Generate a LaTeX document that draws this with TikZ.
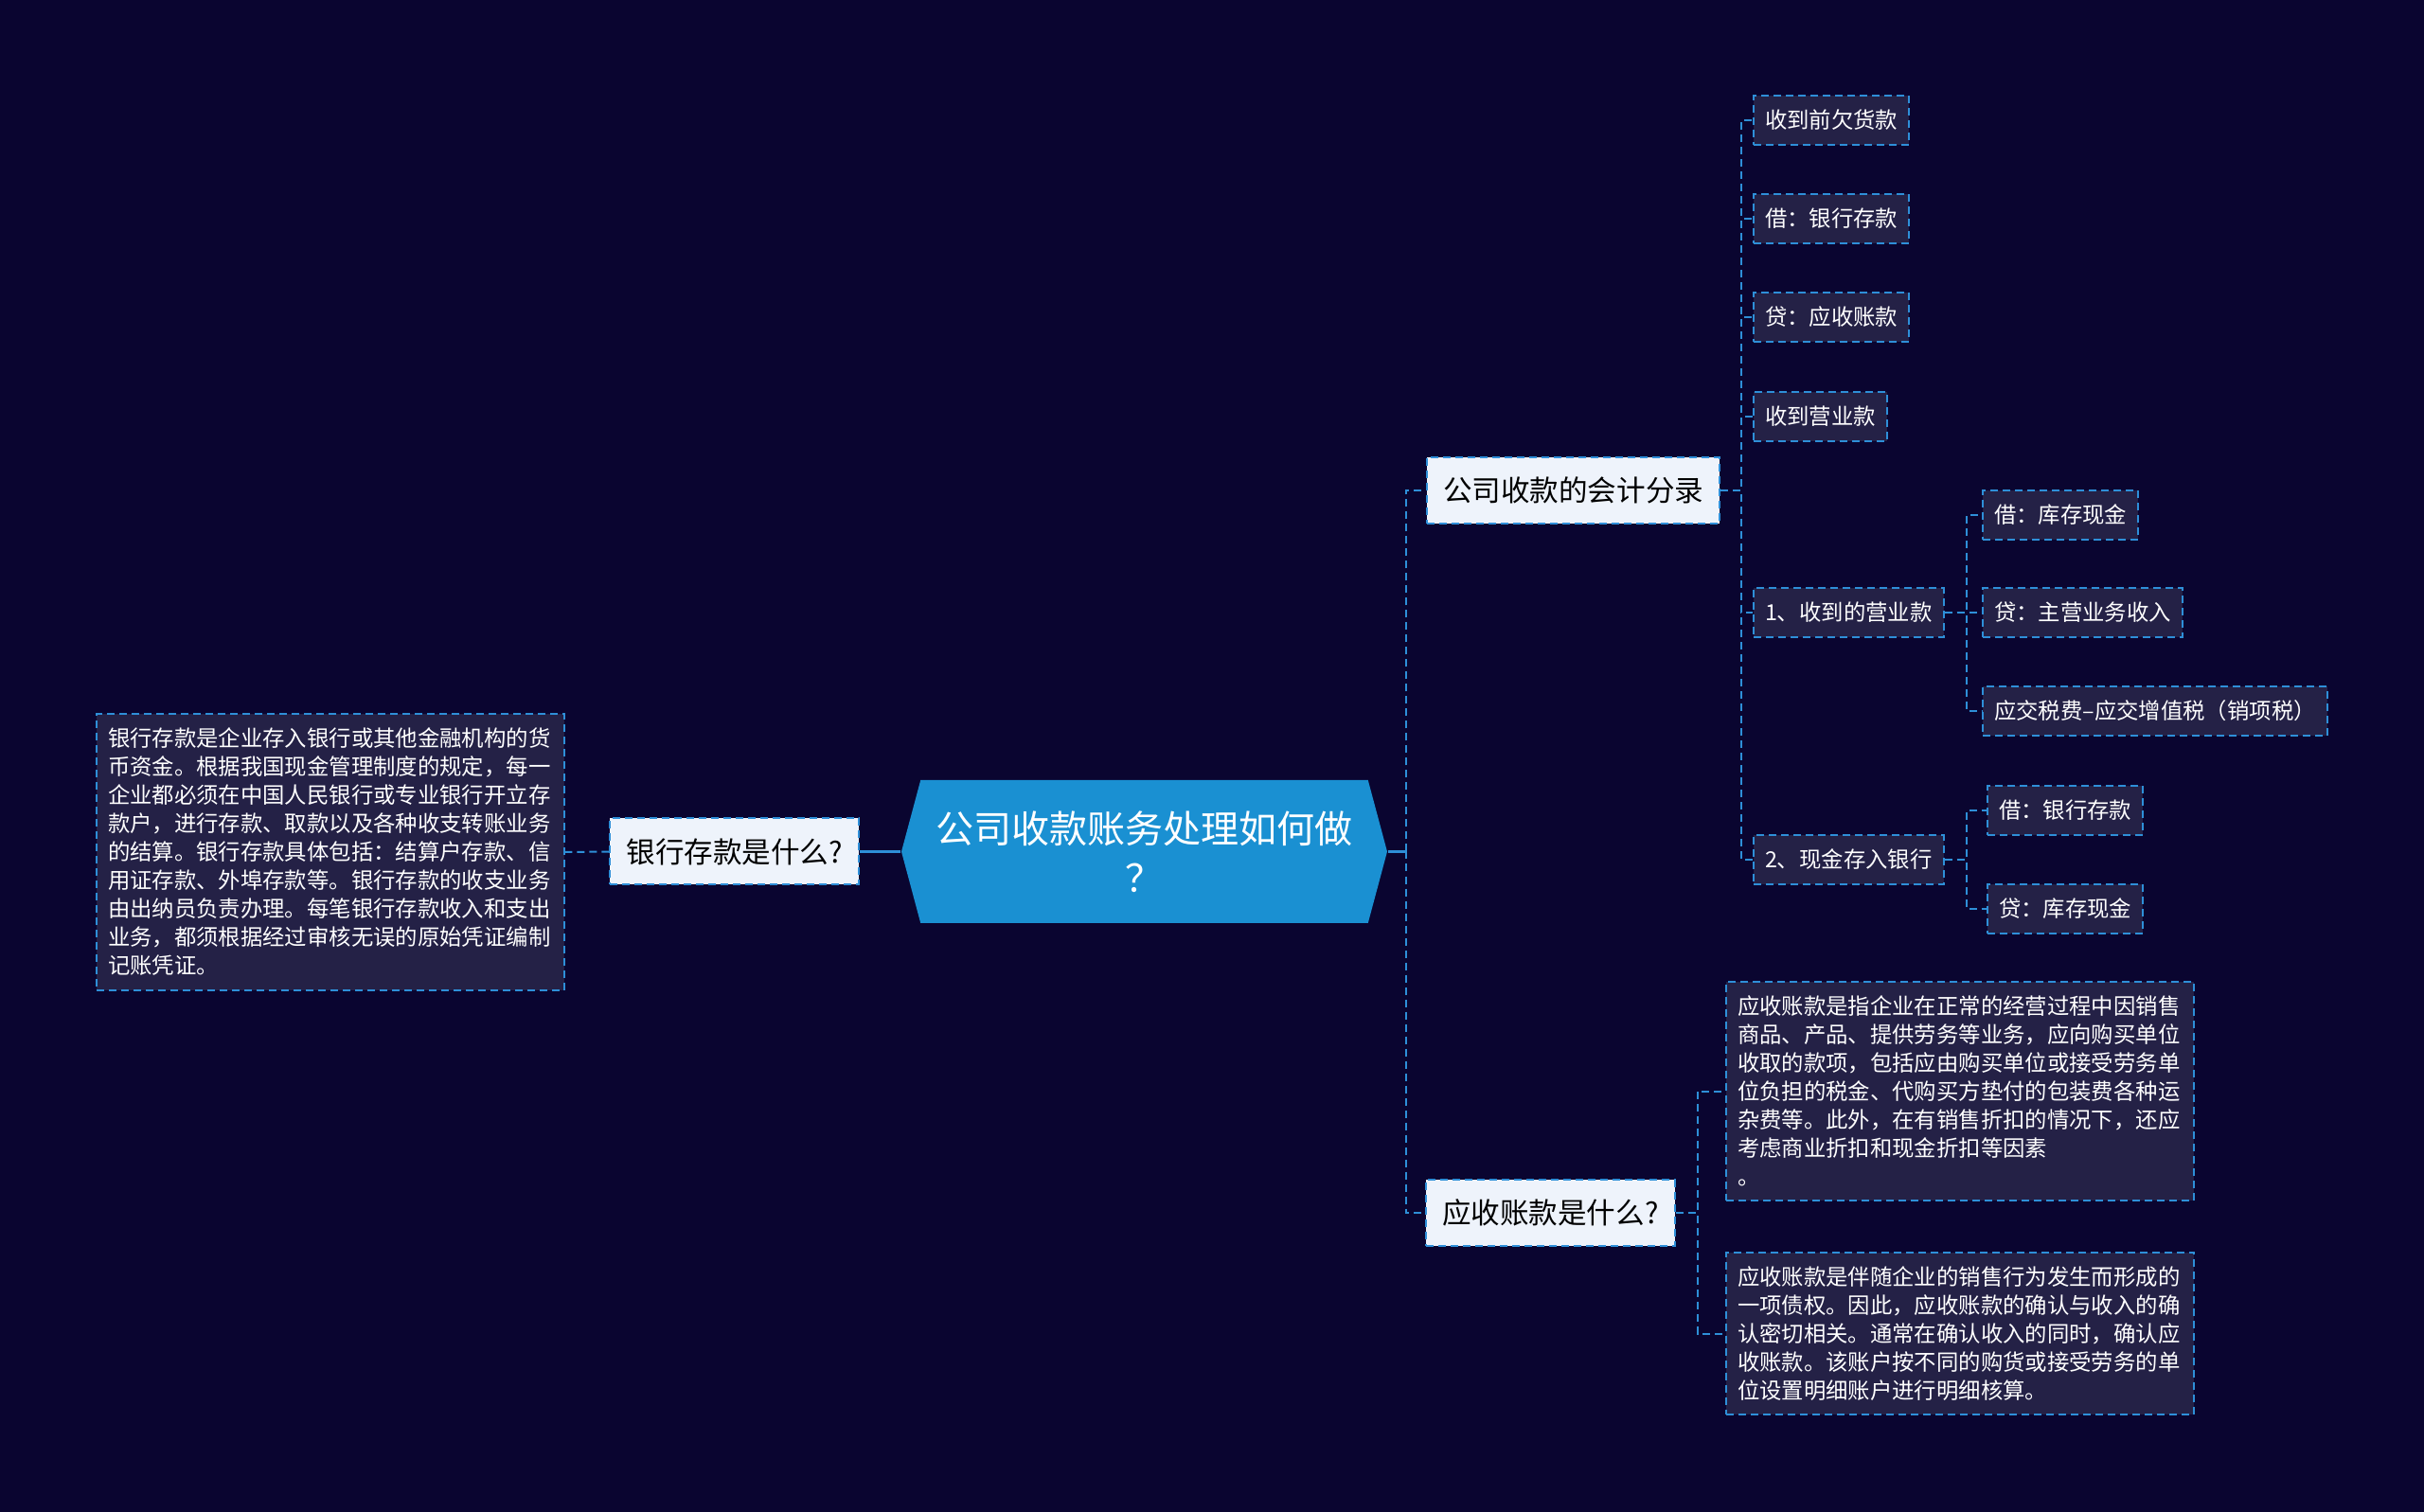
\documentclass[tikz,border=0pt]{standalone}
\usepackage{fontspec}
\newfontfamily\cjkfont{Noto Sans CJK SC}
\usepackage{tikz}
\usetikzlibrary{positioning,calc,shapes.symbols}
\usepackage{xcolor}
\definecolor{bgnavy}{RGB}{10,5,48}
\definecolor{rootblue}{RGB}{26,144,210}
\definecolor{linkblue}{RGB}{46,143,216}
\definecolor{leaffill}{RGB}{36,33,70}
\definecolor{topicfill}{RGB}{238,243,251}

\begin{document}
\begin{tikzpicture}[
      dashline/.style={dash pattern=on 0.08cm off 0.05cm, line width=0.02cm},
      root/.style={
        shape=signal, signal to=east and west, signal pointer angle=150,
        fill=rootblue, text=white, align=center,
        minimum width=5.13cm, minimum height=1.51cm,
        font=\cjkfont\fontsize{11.4}{14.8}\selectfont
      },
      topic/.style={
        draw=linkblue, dashline, fill=topicfill, text=black,
        minimum height=0.70cm, inner xsep=0.17cm,
        font=\cjkfont\fontsize{8.7}{11}\selectfont
      },
      leaf/.style={
        draw=linkblue, dashline, fill=leaffill, text=white, anchor=west,
        minimum height=0.52cm, inner xsep=0.12cm,
        font=\cjkfont\fontsize{6.65}{8.54}\selectfont
      },
      para/.style={leaf, align=left, text width=4.70cm, inner ysep=0.15cm},
      link/.style={draw=linkblue, dashline},
      rootlink/.style={draw=linkblue, line width=0.03cm}
    ]
      \fill[bgnavy] (0,0) rectangle (25.60,-15.97);
      \useasboundingbox (0,0) rectangle (25.60,-15.97);

      % centre
      \node[root] (root) at (12.085,-8.995) {公司收款账务处理如何做\\？};

      % left side
      \node[topic, anchor=east] (bank) at (9.08,-8.995) {银行存款是什么?};
      \node[para] (bankdef) at (1.01,-9.00) {银行存款是企业存入银行或其他金融机构的货\\
币资金。根据我国现金管理制度的规定，每一\\
企业都必须在中国人民银行或专业银行开立存\\
款户，进行存款、取款以及各种收支转账业务\\
的结算。银行存款具体包括：结算户存款、信\\
用证存款、外埠存款等。银行存款的收支业务\\
由出纳员负责办理。每笔银行存款收入和支出\\
业务，都须根据经过审核无误的原始凭证编制\\
记账凭证。};

      % right side
      \node[topic, anchor=west] (entry) at (15.06,-5.18) {公司收款的会计分录};
      \node[topic, anchor=west] (recv) at (15.05,-12.81) {应收账款是什么?};

      \node[leaf] (e1) at (18.51,-1.27) {收到前欠货款};
      \node[leaf] (e2) at (18.51,-2.31) {借：银行存款};
      \node[leaf] (e3) at (18.51,-3.35) {贷：应收账款};
      \node[leaf] (e4) at (18.51,-4.40) {收到营业款};
      \node[leaf] (e5) at (18.51,-6.47) {1、收到的营业款};
      \node[leaf] (e6) at (18.51,-9.08) {2、现金存入银行};

      \node[leaf] (s1) at (20.93,-5.44) {借：库存现金};
      \node[leaf] (s2) at (20.93,-6.47) {贷：主营业务收入};
      \node[leaf] (s3) at (20.93,-7.51) {应交税费–应交增值税（销项税）};

      \node[leaf] (d1) at (20.98,-8.56) {借：银行存款};
      \node[leaf] (d2) at (20.98,-9.60) {贷：库存现金};

      \node[para] (recv1) at (18.22,-11.525) {应收账款是指企业在正常的经营过程中因销售\\
商品、产品、提供劳务等业务，应向购买单位\\
收取的款项，包括应由购买单位或接受劳务单\\
位负担的税金、代购买方垫付的包装费各种运\\
杂费等。此外，在有销售折扣的情况下，还应\\
考虑商业折扣和现金折扣等因素\\
。};
      \node[para] (recv2) at (18.22,-14.085) {应收账款是伴随企业的销售行为发生而形成的\\
一项债权。因此，应收账款的确认与收入的确\\
认密切相关。通常在确认收入的同时，确认应\\
收账款。该账户按不同的购货或接受劳务的单\\
位设置明细账户进行明细核算。};

      % connectors
      \draw[rootlink] (root.west) -- (bank.east);
      \draw[link] (bank.west) -- (bankdef.east);
      \draw[rootlink] (root.east) -- ++(0.19,0) coordinate (rbus);
      \foreach \t in {entry,recv}
        \draw[link] (rbus) |- (\t.west);
      \foreach \c in {e1,e2,e3,e4,e5,e6}
        \draw[link] (entry.east) -- ++(0.22,0) |- (\c.west);
      \foreach \c in {s1,s2,s3}
        \draw[link] (e5.east) -- ++(0.23,0) |- (\c.west);
      \foreach \c in {d1,d2}
        \draw[link] (e6.east) -- ++(0.23,0) |- (\c.west);
      \foreach \c in {recv1,recv2}
        \draw[link] (recv.east) -- ++(0.23,0) |- (\c.west);
    \end{tikzpicture}
\end{document}
